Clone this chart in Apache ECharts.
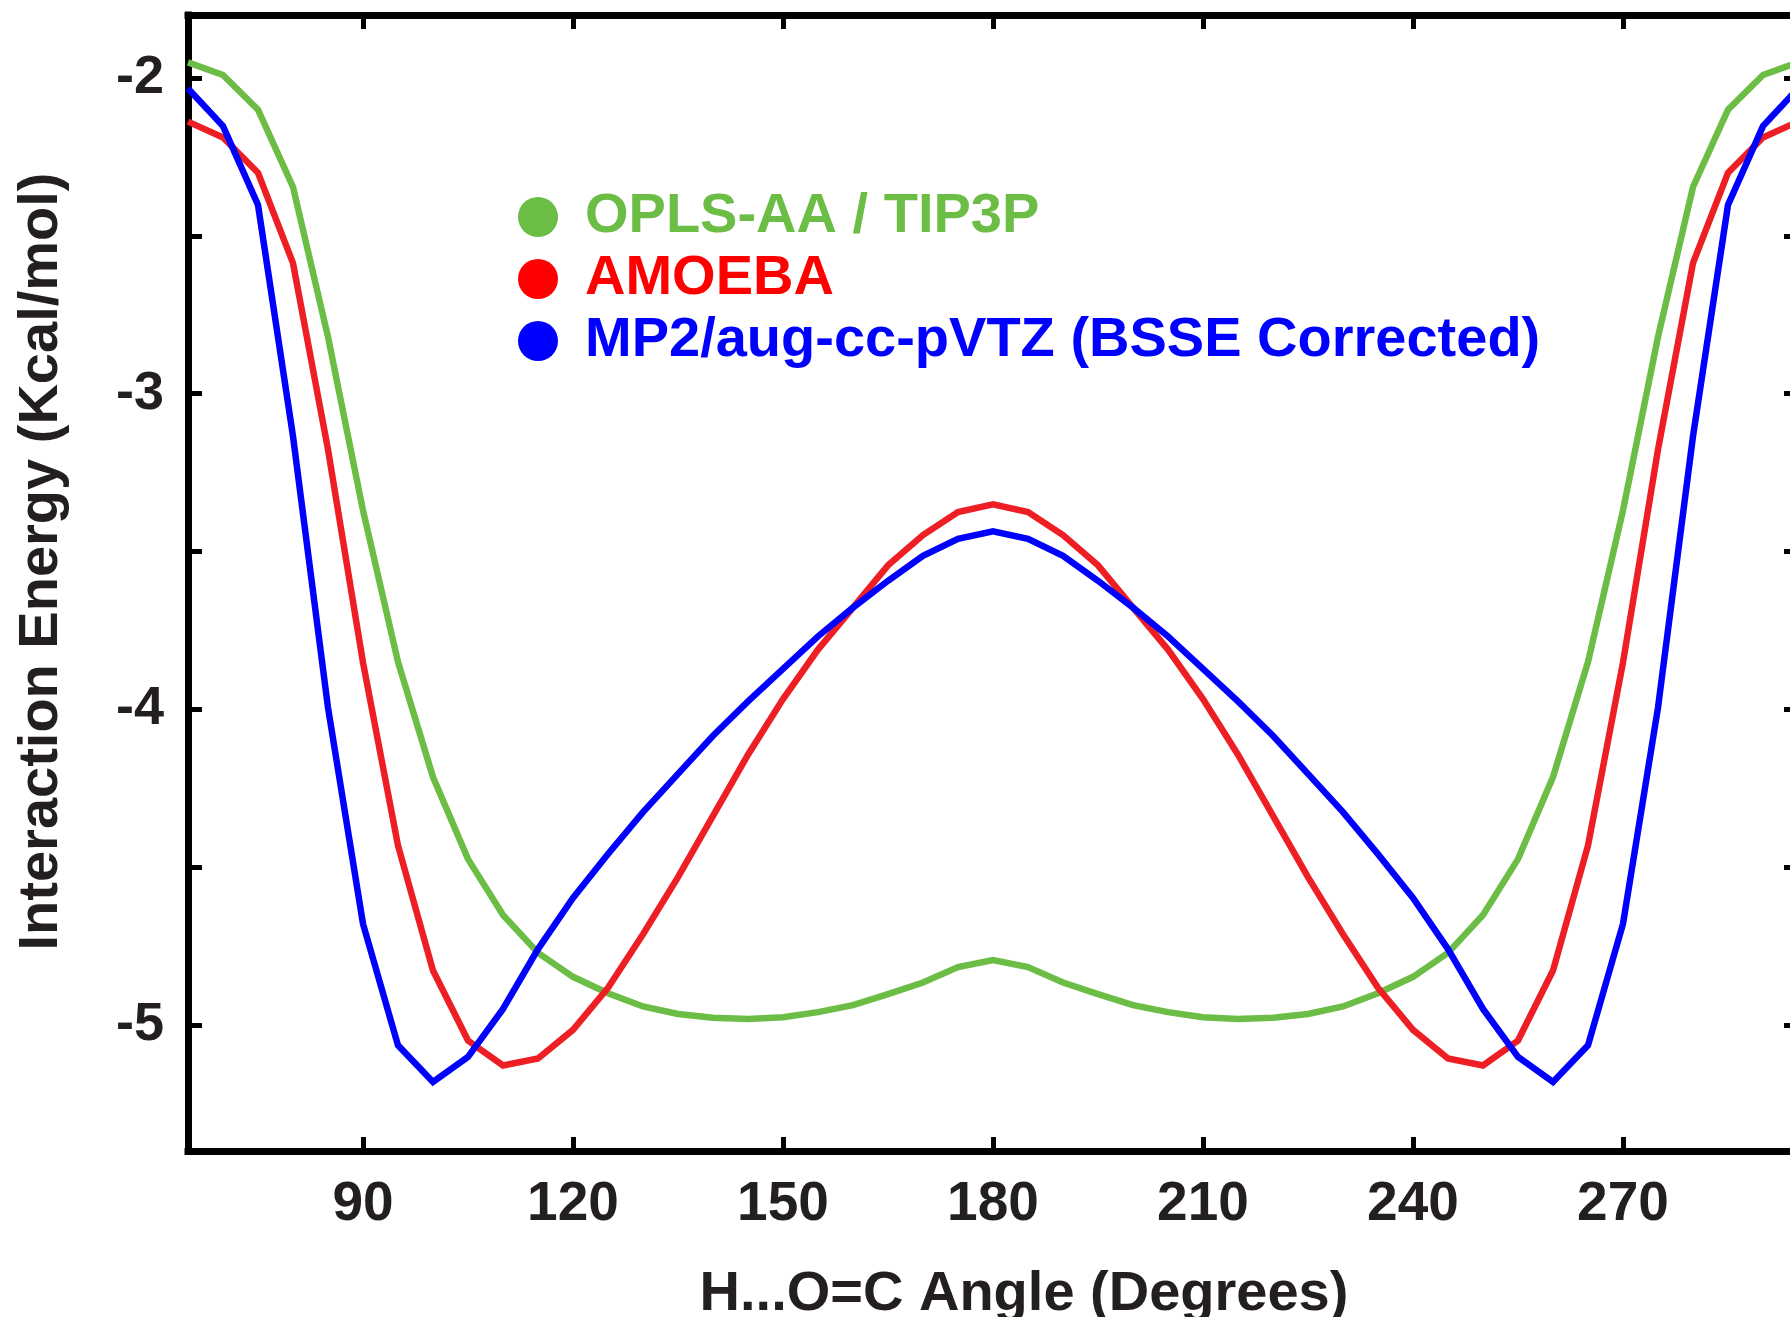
<!DOCTYPE html>
<html>
<head>
<meta charset="utf-8">
<style>
  html, body { margin: 0; padding: 0; background: #ffffff; }
  #chart { width: 1790px; height: 1317px; }
</style>
<script src="https://cdn.jsdelivr.net/npm/echarts@6/dist/echarts.min.js"></script>
</head>
<body>
<div id="chart"></div>
<script>
// ---- data ----
const angles = [65, 70, 75, 80, 85, 90, 95, 100, 105, 110, 115, 120, 125, 130, 135, 140, 145, 150, 155, 160, 165, 170, 175, 180,
                185, 190, 195, 200, 205, 210, 215, 220, 225, 230, 235, 240, 245, 250, 255, 260, 265, 270, 275, 280, 285, 290, 295];

const oplsValues = [-1.95, -1.99, -2.10, -2.345, -2.82, -3.37, -3.85, -4.215, -4.475, -4.652, -4.772, -4.848, -4.90, -4.942, -4.966, -4.978, -4.982, -4.976, -4.96, -4.938, -4.903, -4.866, -4.817, -4.795,
                    -4.817, -4.866, -4.903, -4.938, -4.96, -4.976, -4.982, -4.978, -4.966, -4.942, -4.90, -4.848, -4.772, -4.652, -4.475, -4.215, -3.85, -3.37, -2.82, -2.345, -2.10, -1.99, -1.95];

const amoebaValues = [-2.138, -2.188, -2.30, -2.586, -3.177, -3.852, -4.432, -4.828, -5.05, -5.129, -5.107, -5.016, -4.883, -4.713, -4.532, -4.338, -4.144, -3.968, -3.811, -3.678, -3.544, -3.448, -3.375, -3.351,
                      -3.375, -3.448, -3.544, -3.678, -3.811, -3.968, -4.144, -4.338, -4.532, -4.713, -4.883, -5.016, -5.107, -5.129, -5.05, -4.828, -4.432, -3.852, -3.177, -2.586, -2.30, -2.188, -2.138];

const mp2Values = [-2.033, -2.152, -2.402, -3.135, -3.995, -4.68, -5.065, -5.181, -5.102, -4.95, -4.76, -4.598, -4.459, -4.326, -4.205, -4.084, -3.975, -3.872, -3.769, -3.678, -3.593, -3.514, -3.46, -3.436,
                   -3.46, -3.514, -3.593, -3.678, -3.769, -3.872, -3.975, -4.084, -4.205, -4.326, -4.459, -4.598, -4.76, -4.95, -5.102, -5.181, -5.065, -4.68, -3.995, -3.135, -2.402, -2.152, -2.033];

const seriesNames = ['OPLS-AA / TIP3P', 'AMOEBA', 'MP2/aug-cc-pVTZ (BSSE Corrected)'];

const xTickLabels = [90, 120, 150, 180, 210, 240, 270];
const yTickLabels = [-2, -3, -4, -5];
const yTicks = [-2, -2.5, -3, -3.5, -4, -4.5, -5];

const xRange = [65, 295];
const yRange = [-5.4, -1.8];

// ---- chart ----
const FONT = '"Liberation Sans", Arial, Helvetica, sans-serif';
const TEXT = '#231f20';
const lineColors = ['#6cbd45', '#ed1f24', '#0000ff'];
const legendColors = ['#6cbd45', '#ff0000', '#0000ff'];

const pairs = vals => angles.map((a, i) => [a, vals[i]]);

const axisLine = { show: true, onZero: false, lineStyle: { color: '#000', width: 7, cap: 'square' } };
const tick = (vals) => ({ show: true, inside: true, length: 14, customValues: vals, lineStyle: { color: '#000', width: 5 } });

const chart = echarts.init(document.getElementById('chart'), null, { renderer: 'canvas' });
chart.setOption({
  animation: false,
  backgroundColor: '#ffffff',
  grid: { left: 188, right: -8, top: 15, bottom: 166, containLabel: false, outerBoundsMode: 'none' },
  legend: {
    orient: 'vertical',
    left: 518,
    top: 189,
    padding: 0,
    icon: 'circle',
    itemWidth: 40,
    itemHeight: 40,
    itemGap: 6,
    selectedMode: false,
    textStyle: { fontFamily: FONT, fontWeight: 'bold', fontSize: 56, lineHeight: 40, padding: [0, 0, 0, 22] },
    data: seriesNames.map((n, i) => ({
      name: n,
      itemStyle: { color: legendColors[i], borderWidth: 0 },
      textStyle: { color: legendColors[i] }
    }))
  },
  xAxis: [
    {
      type: 'value', position: 'bottom', min: xRange[0], max: xRange[1],
      name: 'H...O=C Angle (Degrees)', nameLocation: 'middle', nameGap: 116,
      nameTextStyle: { fontFamily: FONT, fontWeight: 'bold', fontSize: 56, color: TEXT, padding: [0, 0, 0, 62] },
      axisLine: axisLine,
      axisTick: tick(xTickLabels),
      axisLabel: { show: true, customValues: xTickLabels, margin: 26, fontFamily: FONT, fontWeight: 'bold', fontSize: 55, color: TEXT },
      splitLine: { show: false }
    },
    {
      type: 'value', position: 'top', min: xRange[0], max: xRange[1],
      axisLine: axisLine,
      axisTick: tick(xTickLabels),
      axisLabel: { show: false },
      splitLine: { show: false }
    }
  ],
  yAxis: [
    {
      type: 'value', position: 'left', min: yRange[0], max: yRange[1],
      name: 'Interaction Energy (Kcal/mol)', nameLocation: 'middle', nameGap: 118,
      nameTextStyle: { fontFamily: FONT, fontWeight: 'bold', fontSize: 56, color: TEXT, padding: [0, 0, 0, 43] },
      axisLine: axisLine,
      axisTick: tick(yTicks),
      axisLabel: { show: true, customValues: yTickLabels, margin: 24, fontFamily: FONT, fontWeight: 'bold', fontSize: 54, color: TEXT },
      splitLine: { show: false }
    },
    {
      type: 'value', position: 'right', min: yRange[0], max: yRange[1],
      axisLine: axisLine,
      axisTick: tick(yTicks),
      axisLabel: { show: false },
      splitLine: { show: false }
    }
  ],
  series: [oplsValues, amoebaValues, mp2Values].map((vals, i) => ({
    name: seriesNames[i],
    type: 'line',
    xAxisIndex: 0,
    yAxisIndex: 0,
    data: pairs(vals),
    showSymbol: false,
    symbol: 'none',
    smooth: false,
    clip: true,
    color: lineColors[i],
    lineStyle: { color: lineColors[i], width: 6.5, join: 'miter' },
    emphasis: { disabled: true },
    z: 2 + i
  }))
});
</script>
</body>
</html>
